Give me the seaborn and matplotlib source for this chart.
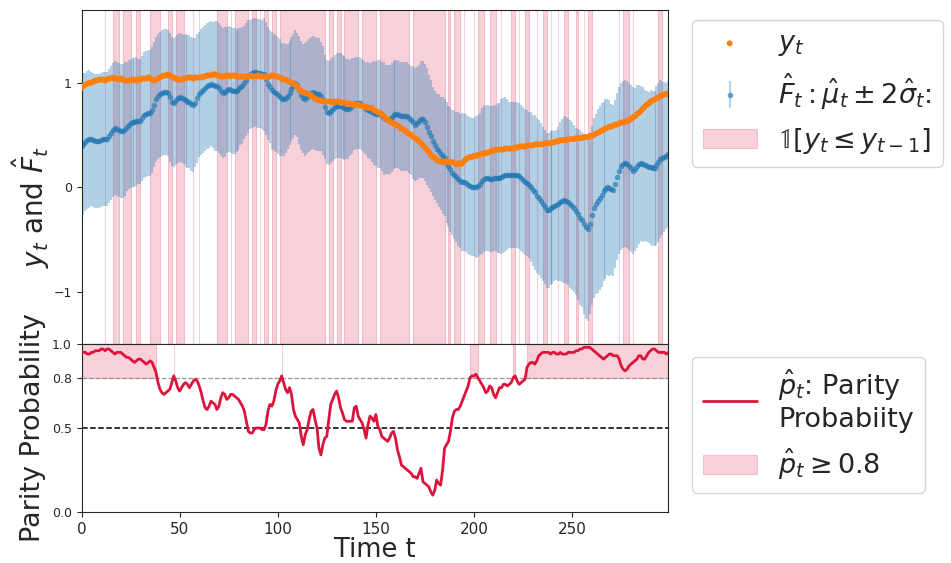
import numpy as np
import matplotlib
matplotlib.use("Agg")
import matplotlib.pyplot as plt
import seaborn as sns
from matplotlib.colors import to_rgba

sns.set_style("ticks")
plt.rcParams['font.family'] = ['DejaVu Sans']
plt.rcParams['mathtext.fontset'] = 'dejavusans'

# ---- data (t = 0 .. 299) ----
y_obs = [
    0.95, 0.97, 0.98, 0.99, 1.00, 1.00, 1.01, 1.02, 1.02, 1.03,
    1.03, 1.03, 1.02, 1.03, 1.04, 1.04, 1.05, 1.04, 1.04, 1.03,
    1.04, 1.03, 1.02, 1.02, 1.02, 1.02, 1.03, 1.03, 1.02, 1.03,
    1.03, 1.04, 1.04, 1.04, 1.05, 1.04, 1.03, 1.02, 1.03, 1.04,
    1.05, 1.06, 1.07, 1.07, 1.08, 1.07, 1.06, 1.05, 1.04, 1.03,
    1.03, 1.03, 1.04, 1.04, 1.05, 1.05, 1.05, 1.04, 1.05, 1.05,
    1.05, 1.05, 1.06, 1.06, 1.07, 1.07, 1.07, 1.08, 1.08, 1.07,
    1.07, 1.06, 1.06, 1.06, 1.07, 1.07, 1.06, 1.07, 1.07, 1.06,
    1.06, 1.06, 1.06, 1.05, 1.06, 1.06, 1.07, 1.06, 1.06, 1.06,
    1.07, 1.06, 1.06, 1.06, 1.05, 1.05, 1.06, 1.07, 1.07, 1.06,
    1.06, 1.05, 1.04, 1.03, 1.03, 1.02, 1.01, 1.00, 0.99, 0.98,
    0.96, 0.94, 0.92, 0.91, 0.90, 0.90, 0.89, 0.88, 0.86, 0.85,
    0.84, 0.83, 0.83, 0.82, 0.82, 0.82, 0.82, 0.82, 0.81, 0.82,
    0.82, 0.82, 0.81, 0.81, 0.81, 0.80, 0.80, 0.80, 0.79, 0.79,
    0.79, 0.79, 0.78, 0.78, 0.77, 0.77, 0.76, 0.76, 0.76, 0.74,
    0.73, 0.72, 0.71, 0.70, 0.68, 0.66, 0.65, 0.63, 0.62, 0.61,
    0.60, 0.59, 0.58, 0.56, 0.55, 0.54, 0.52, 0.51, 0.50, 0.48,
    0.47, 0.46, 0.44, 0.42, 0.40, 0.38, 0.36, 0.34, 0.31, 0.29,
    0.28, 0.26, 0.25, 0.25, 0.24, 0.24, 0.25, 0.24, 0.24, 0.24,
    0.23, 0.22, 0.23, 0.22, 0.23, 0.25, 0.27, 0.28, 0.29, 0.29,
    0.30, 0.30, 0.31, 0.31, 0.32, 0.32, 0.33, 0.33, 0.34, 0.35,
    0.35, 0.36, 0.36, 0.36, 0.36, 0.36, 0.37, 0.37, 0.37, 0.37,
    0.37, 0.38, 0.38, 0.39, 0.39, 0.39, 0.39, 0.40, 0.40, 0.40,
    0.40, 0.41, 0.41, 0.41, 0.41, 0.41, 0.42, 0.42, 0.42, 0.42,
    0.43, 0.43, 0.44, 0.44, 0.45, 0.45, 0.45, 0.45, 0.46, 0.46,
    0.46, 0.46, 0.47, 0.47, 0.47, 0.47, 0.48, 0.48, 0.48, 0.49,
    0.49, 0.50, 0.51, 0.52, 0.53, 0.54, 0.55, 0.56, 0.57, 0.58,
    0.58, 0.59, 0.60, 0.60, 0.61, 0.62, 0.62, 0.63, 0.63, 0.64,
    0.65, 0.67, 0.68, 0.70, 0.71, 0.73, 0.75, 0.77, 0.79, 0.80,
    0.82, 0.83, 0.84, 0.85, 0.86, 0.87, 0.88, 0.89, 0.89, 0.90,
]

mu_hat = [
    0.39, 0.41, 0.43, 0.45, 0.46, 0.46, 0.45, 0.44, 0.44, 0.44,
    0.45, 0.46, 0.46, 0.46, 0.49, 0.52, 0.55, 0.57, 0.56, 0.55,
    0.54, 0.54, 0.56, 0.58, 0.60, 0.61, 0.62, 0.62, 0.63, 0.63,
    0.63, 0.66, 0.69, 0.70, 0.71, 0.71, 0.74, 0.79, 0.84, 0.87,
    0.89, 0.90, 0.91, 0.91, 0.90, 0.86, 0.82, 0.81, 0.83, 0.85,
    0.86, 0.85, 0.84, 0.83, 0.82, 0.82, 0.80, 0.79, 0.81, 0.85,
    0.89, 0.91, 0.93, 0.95, 0.97, 0.98, 0.99, 0.98, 0.97, 0.97,
    0.95, 0.92, 0.90, 0.91, 0.93, 0.94, 0.93, 0.92, 0.92, 0.92,
    0.94, 0.96, 0.97, 1.00, 1.03, 1.06, 1.08, 1.09, 1.10, 1.10,
    1.09, 1.09, 1.08, 1.08, 1.04, 0.99, 0.96, 0.93, 0.91, 0.90,
    0.88, 0.86, 0.84, 0.84, 0.85, 0.87, 0.90, 0.94, 0.97, 1.00,
    0.98, 0.93, 0.88, 0.85, 0.84, 0.86, 0.88, 0.90, 0.91, 0.90,
    0.89, 0.89, 0.87, 0.83, 0.77, 0.72, 0.71, 0.73, 0.75, 0.77,
    0.78, 0.78, 0.78, 0.77, 0.76, 0.75, 0.75, 0.76, 0.78, 0.80,
    0.81, 0.81, 0.81, 0.79, 0.77, 0.75, 0.74, 0.73, 0.72, 0.71,
    0.70, 0.70, 0.70, 0.68, 0.66, 0.65, 0.65, 0.65, 0.67, 0.69,
    0.70, 0.70, 0.69, 0.68, 0.68, 0.68, 0.68, 0.66, 0.64, 0.62,
    0.60, 0.61, 0.63, 0.65, 0.65, 0.62, 0.58, 0.53, 0.49, 0.44,
    0.40, 0.37, 0.35, 0.32, 0.30, 0.28, 0.24, 0.20, 0.17, 0.14,
    0.12, 0.10, 0.08, 0.06, 0.05, 0.05, 0.04, 0.02, 0.01, 0.00,
    0.00, 0.00, 0.01, 0.03, 0.06, 0.08, 0.09, 0.09, 0.08, 0.08,
    0.09, 0.09, 0.09, 0.09, 0.10, 0.11, 0.12, 0.12, 0.12, 0.12,
    0.12, 0.12, 0.12, 0.11, 0.09, 0.07, 0.05, 0.04, 0.02, 0.00,
    -0.03, -0.05, -0.08, -0.10, -0.13, -0.16, -0.19, -0.22, -0.22, -0.20,
    -0.19, -0.18, -0.17, -0.16, -0.14, -0.13, -0.12, -0.13, -0.14, -0.16,
    -0.18, -0.20, -0.23, -0.26, -0.29, -0.31, -0.35, -0.38, -0.40, -0.35,
    -0.27, -0.20, -0.16, -0.13, -0.10, -0.07, -0.04, -0.02, 0.00, -0.01,
    -0.02, -0.03, 0.03, 0.10, 0.16, 0.20, 0.22, 0.23, 0.22, 0.20,
    0.18, 0.16, 0.17, 0.20, 0.22, 0.23, 0.22, 0.21, 0.20, 0.19,
    0.19, 0.18, 0.18, 0.21, 0.24, 0.27, 0.28, 0.29, 0.30, 0.32,
]

sigma_hat = [
    0.34, 0.34, 0.33, 0.33, 0.33, 0.32, 0.32, 0.32, 0.32, 0.32,
    0.32, 0.32, 0.32, 0.32, 0.32, 0.32, 0.32, 0.32, 0.32, 0.32,
    0.32, 0.32, 0.32, 0.31, 0.31, 0.31, 0.31, 0.31, 0.31, 0.30,
    0.30, 0.30, 0.30, 0.30, 0.30, 0.30, 0.30, 0.30, 0.30, 0.30,
    0.30, 0.30, 0.30, 0.30, 0.30, 0.31, 0.31, 0.31, 0.31, 0.31,
    0.31, 0.31, 0.31, 0.32, 0.32, 0.32, 0.32, 0.32, 0.31, 0.31,
    0.30, 0.30, 0.30, 0.30, 0.30, 0.30, 0.30, 0.30, 0.31, 0.31,
    0.31, 0.31, 0.31, 0.31, 0.30, 0.30, 0.30, 0.30, 0.30, 0.29,
    0.29, 0.28, 0.28, 0.27, 0.27, 0.27, 0.26, 0.26, 0.26, 0.26,
    0.26, 0.26, 0.26, 0.27, 0.27, 0.27, 0.27, 0.28, 0.28, 0.28,
    0.28, 0.28, 0.27, 0.27, 0.26, 0.25, 0.25, 0.25, 0.25, 0.25,
    0.25, 0.26, 0.26, 0.26, 0.27, 0.27, 0.27, 0.27, 0.27, 0.27,
    0.27, 0.27, 0.26, 0.26, 0.25, 0.25, 0.25, 0.25, 0.25, 0.25,
    0.25, 0.25, 0.25, 0.25, 0.25, 0.24, 0.24, 0.23, 0.23, 0.22,
    0.22, 0.22, 0.22, 0.22, 0.22, 0.22, 0.23, 0.23, 0.24, 0.25,
    0.25, 0.26, 0.26, 0.26, 0.27, 0.26, 0.26, 0.26, 0.26, 0.26,
    0.26, 0.26, 0.26, 0.26, 0.26, 0.26, 0.26, 0.26, 0.26, 0.27,
    0.27, 0.27, 0.27, 0.28, 0.28, 0.28, 0.28, 0.27, 0.27, 0.26,
    0.26, 0.26, 0.27, 0.27, 0.28, 0.28, 0.29, 0.29, 0.30, 0.30,
    0.31, 0.31, 0.32, 0.32, 0.33, 0.33, 0.33, 0.33, 0.33, 0.33,
    0.33, 0.34, 0.34, 0.34, 0.35, 0.35, 0.35, 0.35, 0.35, 0.35,
    0.35, 0.35, 0.36, 0.36, 0.37, 0.37, 0.37, 0.36, 0.35, 0.35,
    0.35, 0.35, 0.35, 0.35, 0.35, 0.35, 0.35, 0.35, 0.35, 0.36,
    0.36, 0.37, 0.37, 0.37, 0.37, 0.37, 0.37, 0.37, 0.37, 0.37,
    0.37, 0.36, 0.36, 0.37, 0.38, 0.39, 0.40, 0.40, 0.40, 0.40,
    0.40, 0.40, 0.40, 0.41, 0.42, 0.42, 0.43, 0.44, 0.44, 0.43,
    0.43, 0.43, 0.43, 0.44, 0.44, 0.44, 0.43, 0.43, 0.42, 0.42,
    0.41, 0.41, 0.40, 0.40, 0.40, 0.40, 0.40, 0.40, 0.40, 0.40,
    0.40, 0.40, 0.39, 0.39, 0.38, 0.37, 0.37, 0.36, 0.36, 0.36,
    0.37, 0.37, 0.37, 0.38, 0.38, 0.38, 0.37, 0.36, 0.35, 0.35,
]

parity_prob = [
    0.95, 0.95, 0.95, 0.94, 0.94, 0.95, 0.95, 0.96, 0.96, 0.96,
    0.97, 0.97, 0.96, 0.97, 0.97, 0.96, 0.95, 0.94, 0.95, 0.95,
    0.95, 0.94, 0.93, 0.92, 0.92, 0.91, 0.90, 0.89, 0.90, 0.91,
    0.91, 0.90, 0.89, 0.88, 0.89, 0.90, 0.89, 0.86, 0.83, 0.77,
    0.73, 0.71, 0.70, 0.71, 0.72, 0.73, 0.77, 0.81, 0.78, 0.74,
    0.72, 0.74, 0.76, 0.77, 0.76, 0.74, 0.76, 0.78, 0.79, 0.78,
    0.75, 0.71, 0.66, 0.62, 0.61, 0.63, 0.66, 0.65, 0.64, 0.61,
    0.63, 0.68, 0.71, 0.70, 0.67, 0.68, 0.70, 0.70, 0.69, 0.68,
    0.67, 0.65, 0.63, 0.60, 0.54, 0.48, 0.47, 0.47, 0.49, 0.50,
    0.50, 0.50, 0.49, 0.49, 0.52, 0.60, 0.64, 0.63, 0.66, 0.72,
    0.76, 0.78, 0.81, 0.77, 0.73, 0.71, 0.74, 0.70, 0.61, 0.57,
    0.55, 0.53, 0.45, 0.40, 0.46, 0.49, 0.55, 0.60, 0.61, 0.55,
    0.50, 0.38, 0.34, 0.40, 0.44, 0.45, 0.55, 0.64, 0.67, 0.70,
    0.72, 0.68, 0.62, 0.59, 0.55, 0.54, 0.54, 0.54, 0.54, 0.62,
    0.63, 0.57, 0.55, 0.53, 0.49, 0.44, 0.52, 0.57, 0.56, 0.54,
    0.58, 0.51, 0.49, 0.45, 0.44, 0.43, 0.42, 0.44, 0.47, 0.48,
    0.44, 0.37, 0.33, 0.28, 0.27, 0.26, 0.25, 0.24, 0.23, 0.21,
    0.21, 0.20, 0.23, 0.26, 0.18, 0.17, 0.16, 0.15, 0.12, 0.10,
    0.13, 0.19, 0.17, 0.16, 0.25, 0.38, 0.40, 0.42, 0.48, 0.56,
    0.60, 0.61, 0.61, 0.63, 0.66, 0.69, 0.72, 0.75, 0.80, 0.81,
    0.81, 0.82, 0.80, 0.78, 0.76, 0.74, 0.71, 0.72, 0.75, 0.74,
    0.70, 0.68, 0.71, 0.74, 0.74, 0.76, 0.76, 0.75, 0.76, 0.77,
    0.80, 0.81, 0.78, 0.76, 0.77, 0.78, 0.79, 0.86, 0.88, 0.89,
    0.89, 0.88, 0.90, 0.93, 0.94, 0.95, 0.95, 0.95, 0.95, 0.94,
    0.95, 0.95, 0.94, 0.94, 0.95, 0.94, 0.94, 0.94, 0.95, 0.95,
    0.95, 0.95, 0.96, 0.96, 0.97, 0.97, 0.98, 0.98, 0.98, 0.98,
    0.97, 0.96, 0.95, 0.94, 0.93, 0.92, 0.91, 0.92, 0.93, 0.94,
    0.94, 0.93, 0.93, 0.93, 0.91, 0.87, 0.85, 0.84, 0.85, 0.87,
    0.88, 0.89, 0.90, 0.91, 0.93, 0.93, 0.91, 0.91, 0.93, 0.95,
    0.96, 0.97, 0.97, 0.96, 0.95, 0.95, 0.95, 0.95, 0.94, 0.95,
]

# runs of t (inclusive) where y_t <= y_{t-1}, read from the pink stripes
down_runs = [
    (12, 12), (16, 19), (21, 25), (28, 30), (35, 40), (44, 46), (48, 52),
    (57, 57), (60, 60), (69, 74), (76, 76), (78, 82), (83, 85), (87, 89),
    (91, 91), (93, 95), (97, 99), (101, 124), (126, 128), (130, 132),
    (134, 141), (143, 150), (152, 167), (169, 185), (187, 188), (190, 193),
    (195, 195), (200, 200), (202, 205), (208, 211), (214, 214), (219, 221),
    (223, 223), (226, 228), (232, 232), (235, 237), (239, 239), (243, 243),
    (246, 248), (252, 253), (256, 256), (258, 260), (274, 274), (276, 279),
    (281, 281), (294, 296),
]

x_ticks = [0, 50, 100, 150, 200, 250]
top_yticks = [-1, 0, 1]
bottom_yticks = [0.0, 0.5, 0.8, 1.0]
parity_threshold = 0.8
coin_flip = 0.5

t = np.arange(len(y_obs))
y_obs = np.array(y_obs)
mu_hat = np.array(mu_hat)
sigma_hat = np.array(sigma_hat)
parity_prob = np.array(parity_prob)

down_mask = np.zeros(len(t), dtype=bool)
for a, b in down_runs:
    down_mask[a:b + 1] = True

shade = to_rgba('crimson', 0.2)

fig = plt.figure(figsize=(9.51, 5.63), dpi=100)
ax1 = fig.add_axes([0.0857, 0.389, 0.617, 0.594])
ax2 = fig.add_axes([0.0857, 0.0906, 0.617, 0.2984], sharex=ax1)

# --- top panel ---
ax1.fill_between(t, 0, 1, where=down_mask, facecolor=shade, edgecolor=shade, lw=0.8,
                 transform=ax1.get_xaxis_transform(),
                 label=r'$\mathbb{1}[y_t \leq y_{t-1}]$', zorder=0)
ax1.errorbar(t, mu_hat, yerr=2 * sigma_hat, fmt='o', ms=4,
             color=to_rgba('tab:blue', 0.65), mec='none',
             ecolor=to_rgba('tab:blue', 0.33), elinewidth=1.5,
             label=r'$\hat{F}_t: \hat{\mu}_t \pm 2\hat{\sigma}_t$:', zorder=2)
sns.scatterplot(x=t, y=y_obs, ax=ax1, color='#ff7f0e', s=18, edgecolor='none',
                label=r'$y_t$', zorder=3)

ax1.set_xlim(0, len(t) - 1)
ax1.set_ylim(-1.50, 1.70)
ax1.set_yticks(top_yticks)
ax1.tick_params(axis='y', labelsize=9)
ax1.tick_params(axis='x', labelbottom=False, bottom=False)
ax1.set_ylabel(r'$y_t$ and $\hat{F}_t$', fontsize=20)
ax1.yaxis.set_label_coords(-0.05, 0.41)

h, l = ax1.get_legend_handles_labels()
order = [l.index(r'$y_t$'),
         l.index(r'$\hat{F}_t: \hat{\mu}_t \pm 2\hat{\sigma}_t$:'),
         l.index(r'$\mathbb{1}[y_t \leq y_{t-1}]$')]
ax1.legend([h[i] for i in order], [l[i] for i in order],
           loc='upper left', bbox_to_anchor=(1.04, 0.97), fontsize=19.5,
           borderaxespad=0)

# --- bottom panel ---
ax2.fill_between(t, parity_threshold, 1.0, where=parity_prob >= parity_threshold,
                 facecolor=shade, edgecolor=shade, lw=0.8,
                 label=r'$\hat{p}_t \geq 0.8$', zorder=0)
ax2.axhline(parity_threshold, color='gray', ls='--', lw=0.9, alpha=0.8, zorder=1)
ax2.axhline(coin_flip, color='black', ls='--', lw=1.1, zorder=1)
sns.lineplot(x=t, y=parity_prob, ax=ax2, color='crimson', lw=2,
             label='$\\hat{p}_t$: Parity\nProbabiity', zorder=3)

ax2.set_ylim(0, 1.0)
ax2.set_yticks(bottom_yticks)
ax2.set_yticklabels([f'{v:.1f}' for v in bottom_yticks])
ax2.set_xticks(x_ticks)
ax2.tick_params(axis='y', labelsize=9)
ax2.tick_params(axis='x', labelsize=11)
ax2.set_xlabel('Time t', fontsize=18.5, labelpad=0)
ax2.set_ylabel('Parity Probability', fontsize=19.5)

h2, l2 = ax2.get_legend_handles_labels()
order2 = [l2.index('$\\hat{p}_t$: Parity\nProbabiity'), l2.index(r'$\hat{p}_t \geq 0.8$')]
ax2.legend([h2[i] for i in order2], [l2[i] for i in order2],
           loc='upper left', bbox_to_anchor=(1.04, 0.925), fontsize=19.5,
           borderaxespad=0)

fig.savefig('out.png', dpi=100)
